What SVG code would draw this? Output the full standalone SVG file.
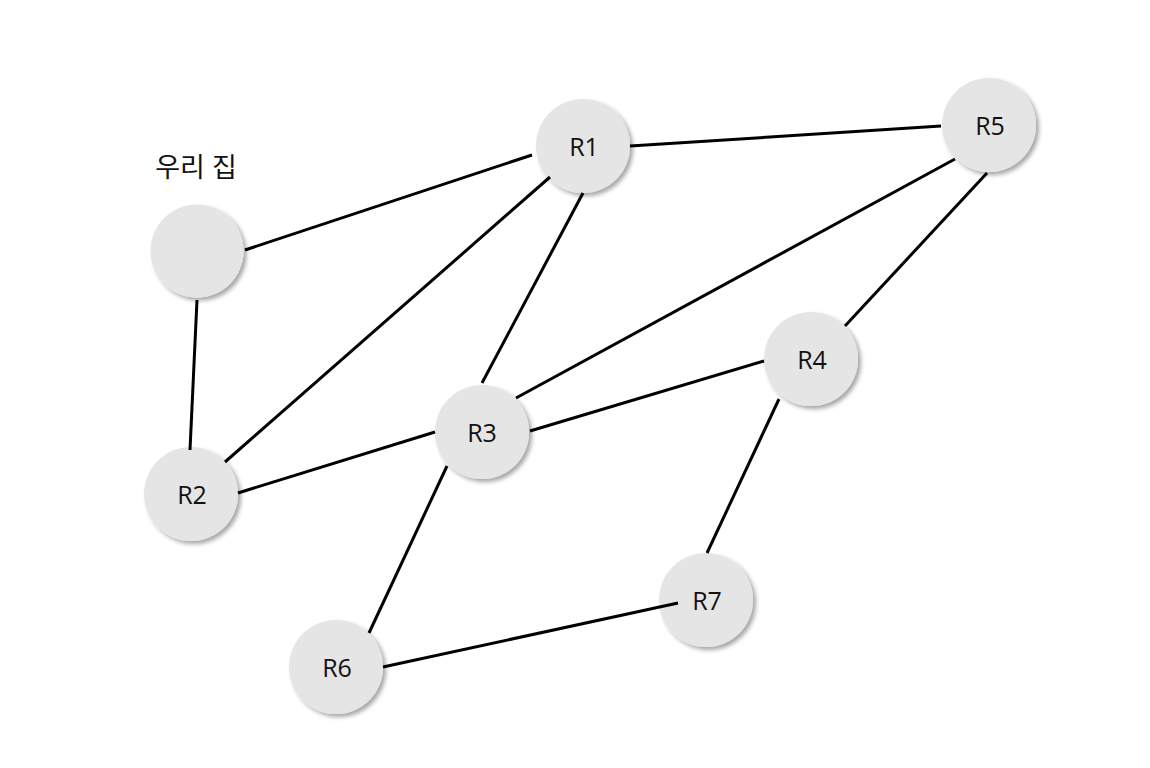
<svg xmlns="http://www.w3.org/2000/svg" width="1150" height="768" viewBox="0 0 1150 768">
<defs>
<filter id="sh" x="-30%" y="-30%" width="160%" height="160%">
<feDropShadow dx="3" dy="3" stdDeviation="2" flood-color="#000" flood-opacity="0.35"/>
</filter>
<style>
.n{fill:#e5e5e5;filter:url(#sh)}
.t{font-family:"Open Sans","Noto Sans","Noto Sans CJK KR",sans-serif;font-size:25px;fill:#111;text-anchor:middle;dominant-baseline:central}
.e{stroke:#000;stroke-width:3;fill:none}
</style>
</defs>
<rect width="1150" height="768" fill="#fff"/>
<g id="home"><circle class="n" cx="197" cy="251" r="46.5"/><text class="t" x="196" y="166" style="font-size:27px">우리 집</text></g>
<g id="R1"><circle class="n" cx="583" cy="146" r="47"/><text class="t" x="584" y="146">R1</text></g>
<g id="R2"><circle class="n" cx="191" cy="494" r="47"/><text class="t" x="192" y="494">R2</text></g>
<g id="R3"><circle class="n" cx="482" cy="432" r="47"/><text class="t" x="482" y="432">R3</text></g>
<g id="R4"><circle class="n" cx="811" cy="359" r="47"/><text class="t" x="812" y="359">R4</text></g>
<g id="R5"><circle class="n" cx="989" cy="125" r="47"/><text class="t" x="990" y="125">R5</text></g>
<g id="R6"><circle class="n" cx="336" cy="667" r="47"/><text class="t" x="337" y="667">R6</text></g>
<g id="R7"><circle class="n" cx="706" cy="600" r="47"/><text class="t" x="707" y="600">R7</text></g>
<g id="connectors">
<line class="e" x1="245" y1="250" x2="532" y2="155"/>
<line class="e" x1="197" y1="300" x2="190" y2="450"/>
<line class="e" x1="630" y1="146" x2="941" y2="126"/>
<line class="e" x1="550" y1="177" x2="225" y2="462"/>
<line class="e" x1="583" y1="193" x2="482" y2="383"/>
<line class="e" x1="955" y1="159" x2="516" y2="398"/>
<line class="e" x1="987" y1="173" x2="845" y2="326"/>
<line class="e" x1="530" y1="431" x2="764" y2="361"/>
<line class="e" x1="238" y1="493" x2="435" y2="432"/>
<line class="e" x1="447" y1="466" x2="369" y2="633"/>
<line class="e" x1="779" y1="399" x2="707" y2="553"/>
<line class="e" x1="383" y1="667" x2="678" y2="603"/>
</g>
</svg>
